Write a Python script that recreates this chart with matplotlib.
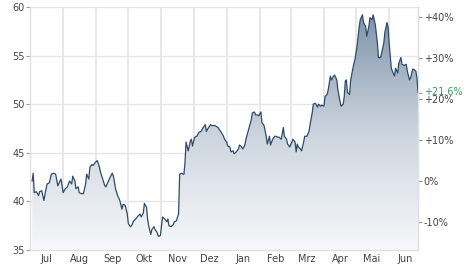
import matplotlib
matplotlib.use("Agg")
import matplotlib.pyplot as plt
import matplotlib.dates as mdates
import numpy as np
import pandas as pd
from matplotlib.colors import LinearSegmentedColormap
from matplotlib.patches import Polygon

dates = [
    "2023-07-03", "2023-07-04", "2023-07-05", "2023-07-07", "2023-07-09", "2023-07-10",
    "2023-07-12", "2023-07-14", "2023-07-16", "2023-07-17", "2023-07-19", "2023-07-21",
    "2023-07-23", "2023-07-25", "2023-07-27", "2023-07-29", "2023-07-30",
    "2023-08-01", "2023-08-03", "2023-08-05", "2023-08-07", "2023-08-09", "2023-08-10",
    "2023-08-12", "2023-08-13", "2023-08-15", "2023-08-16", "2023-08-18", "2023-08-20",
    "2023-08-22", "2023-08-23", "2023-08-25", "2023-08-26", "2023-08-28", "2023-08-29",
    "2023-08-31",
    "2023-09-02", "2023-09-04", "2023-09-05", "2023-09-07", "2023-09-09", "2023-09-10",
    "2023-09-12", "2023-09-14", "2023-09-16", "2023-09-17", "2023-09-18", "2023-09-19",
    "2023-09-21", "2023-09-23", "2023-09-25", "2023-09-26", "2023-09-28", "2023-09-30",
    "2023-10-01", "2023-10-03", "2023-10-04", "2023-10-06", "2023-10-08", "2023-10-10",
    "2023-10-12", "2023-10-13", "2023-10-15", "2023-10-16", "2023-10-18", "2023-10-19",
    "2023-10-20", "2023-10-22", "2023-10-23", "2023-10-25", "2023-10-26", "2023-10-28",
    "2023-10-29", "2023-10-31",
    "2023-11-01", "2023-11-02", "2023-11-04", "2023-11-06", "2023-11-07", "2023-11-08",
    "2023-11-10", "2023-11-12", "2023-11-13", "2023-11-15", "2023-11-16", "2023-11-17",
    "2023-11-18", "2023-11-20", "2023-11-21", "2023-11-22", "2023-11-23", "2023-11-24",
    "2023-11-26", "2023-11-28", "2023-11-29", "2023-11-30",
    "2023-12-02", "2023-12-04", "2023-12-06", "2023-12-08", "2023-12-10", "2023-12-12",
    "2023-12-13", "2023-12-15", "2023-12-17", "2023-12-18", "2023-12-21", "2023-12-24",
    "2023-12-25", "2023-12-27", "2023-12-29", "2023-12-30",
    "2024-01-01", "2024-01-02", "2024-01-04", "2024-01-05", "2024-01-07", "2024-01-08",
    "2024-01-10", "2024-01-12", "2024-01-13", "2024-01-15", "2024-01-16", "2024-01-18",
    "2024-01-19", "2024-01-21", "2024-01-22", "2024-01-24", "2024-01-25", "2024-01-27",
    "2024-01-28", "2024-01-30", "2024-01-31",
    "2024-02-02", "2024-02-03", "2024-02-05", "2024-02-07", "2024-02-08", "2024-02-10",
    "2024-02-11", "2024-02-13", "2024-02-15", "2024-02-16", "2024-02-18", "2024-02-19",
    "2024-02-21", "2024-02-23", "2024-02-24", "2024-02-26", "2024-02-27", "2024-02-29",
    "2024-03-02", "2024-03-03", "2024-03-05", "2024-03-06", "2024-03-07", "2024-03-08",
    "2024-03-10", "2024-03-11", "2024-03-13", "2024-03-14", "2024-03-16", "2024-03-18",
    "2024-03-19", "2024-03-21", "2024-03-22", "2024-03-24", "2024-03-26", "2024-03-27",
    "2024-03-29", "2024-03-30",
    "2024-04-01", "2024-04-02", "2024-04-04", "2024-04-05", "2024-04-07", "2024-04-08",
    "2024-04-10", "2024-04-11", "2024-04-13", "2024-04-14", "2024-04-16", "2024-04-17",
    "2024-04-19", "2024-04-20", "2024-04-21", "2024-04-22", "2024-04-23", "2024-04-25",
    "2024-04-26", "2024-04-28", "2024-04-29", "2024-04-30",
    "2024-05-02", "2024-05-04", "2024-05-05", "2024-05-07", "2024-05-08", "2024-05-10",
    "2024-05-11", "2024-05-13", "2024-05-14", "2024-05-16", "2024-05-17", "2024-05-19",
    "2024-05-21", "2024-05-22", "2024-05-24", "2024-05-25", "2024-05-27", "2024-05-28",
    "2024-05-30", "2024-05-31",
    "2024-06-01", "2024-06-03", "2024-06-04", "2024-06-06", "2024-06-07", "2024-06-09",
    "2024-06-10", "2024-06-12", "2024-06-13", "2024-06-15", "2024-06-17", "2024-06-18",
    "2024-06-20", "2024-06-21", "2024-06-23", "2024-06-24", "2024-06-26", "2024-06-27",
    "2024-06-28",
]

prices = [
    42.1, 42.9, 40.9, 41.0, 40.6, 41.0, 41.1, 40.1, 41.3, 41.8, 41.9, 42.8,
    42.9, 42.8, 41.6, 42.1, 42.3,
    40.9, 41.3, 41.5, 42.1, 41.8, 42.6, 42.1, 41.3, 41.5, 40.9, 40.8, 40.8,
    41.8, 42.8, 42.3, 43.5, 43.8, 43.7, 44.0,
    44.2, 43.5, 43.0, 42.3, 41.6, 41.5, 42.0, 42.5, 42.9, 42.6, 42.0, 41.3,
    40.6, 40.1, 39.2, 39.7, 39.6, 38.7,
    37.7, 37.4, 37.5, 38.0, 38.2, 38.5, 38.7, 38.4, 38.8, 39.8, 39.4, 38.2,
    37.5, 36.6, 37.1, 37.4, 37.1, 36.8, 36.4, 36.5,
    37.5, 38.4, 38.2, 37.9, 38.2, 37.5, 37.4, 37.6, 37.9, 38.0, 38.4, 38.7,
    42.8, 42.9, 42.8, 42.8, 44.0, 46.1, 45.2, 46.2, 46.4, 45.7,
    46.6, 46.7, 47.1, 47.2, 47.6, 47.9, 47.2, 47.6, 47.9, 47.8, 47.8, 47.6,
    47.4, 47.1, 46.7, 46.4,
    46.1, 45.7, 45.6, 45.1, 45.2, 44.9, 45.1, 45.4, 45.8, 45.6, 45.4, 45.8,
    46.4, 47.2, 47.6, 48.4, 49.1, 49.2, 48.9, 48.9, 48.8,
    49.2, 48.1, 47.8, 46.7, 45.9, 46.7, 45.8, 46.4, 46.7, 46.7, 46.6, 46.6,
    46.4, 47.6, 46.7, 46.4, 45.9, 45.6,
    46.1, 46.4, 46.1, 45.1, 45.9, 45.6, 45.4, 45.2, 46.1, 46.7, 46.7, 47.2,
    47.9, 49.1, 50.0, 50.1, 49.7, 50.0, 49.8, 49.9,
    49.8, 50.8, 51.0, 51.5, 52.9, 52.5, 52.9, 53.0, 52.5, 51.5, 50.3, 49.8,
    50.0, 50.8, 52.4, 52.5, 51.2, 51.0, 52.5, 53.6, 54.2, 54.6,
    56.0, 58.0, 58.7, 59.2, 58.4, 58.0, 57.0, 58.0, 58.9, 58.7, 59.2, 58.2,
    56.3, 54.8, 54.8, 55.3, 56.3, 57.4, 58.4, 57.9,
    56.3, 53.7, 53.4, 52.9, 53.7, 53.2, 54.2, 54.8, 54.1, 54.0, 54.1, 53.4,
    52.5, 52.7, 53.6, 53.6, 53.4, 52.7, 51.2,
]

month_labels = ["Jul", "Aug", "Sep", "Okt", "Nov", "Dez", "Jan", "Feb", "Mrz", "Apr", "Mai", "Jun"]
left_ticks = [35, 40, 45, 50, 55, 60]
pct_ticks = [-10, 0, 10, 20, 30, 40]
base_price = 42.1
last_pct = 21.6

x_start, x_end = "2023-07-01", "2024-06-28"
y_min, y_max = 35, 60

line_color = "#2f4b69"
grid_color = "#e6e6e6"
text_color = "#444444"

fig = plt.figure(figsize=(4.74, 2.69), dpi=100)
ax = fig.add_axes([0.0633, 0.0706, 0.8186, 0.9034])

xd = mdates.date2num(pd.to_datetime(dates))
yp = np.array(prices)
x0 = mdates.date2num(pd.Timestamp(x_start))
x1 = mdates.date2num(pd.Timestamp(x_end))

# gradient fill under the line
cmap = LinearSegmentedColormap.from_list(
    "g", [(0.0, "#f6f8fa"), (0.25, "#e2e7ed"), (0.5, "#c9d2dc"), (1.0, "#7b90a7")])
grad = np.linspace(0, 1, 256).reshape(-1, 1)
im = ax.imshow(grad, extent=[x0, x1, y_min, y_max], origin="lower", aspect="auto",
               cmap=cmap, zorder=1)
poly_pts = np.column_stack([np.concatenate([[xd[0]], xd, [xd[-1]]]),
                            np.concatenate([[y_min], yp, [y_min]])])
poly = Polygon(poly_pts, closed=True, transform=ax.transData, facecolor="none", edgecolor="none")
ax.add_patch(poly)
im.set_clip_path(poly)

ax.plot(xd, yp, color=line_color, lw=0.9, zorder=3)

ax.set_xlim(x0, x1)
ax.set_ylim(y_min, y_max)

# month grid
month_starts = pd.date_range("2023-08-01", "2024-06-01", freq="MS")
ax.set_xticks(mdates.date2num(month_starts))
ax.set_xticklabels([])
ax.tick_params(axis="x", which="major", length=0)
mids = pd.date_range("2023-07-01", "2024-06-01", freq="MS") + pd.Timedelta(days=15)
ax.set_xticks(mdates.date2num(mids), minor=True)
ax.set_xticklabels(month_labels, minor=True)
ax.tick_params(axis="x", which="minor", length=0, labelsize=7, colors=text_color, pad=3)
ax.grid(True, axis="x", which="major", color=grid_color, lw=1.3, zorder=0)

ax.set_yticks(left_ticks)
ax.set_yticklabels([str(v) for v in left_ticks])
ax.tick_params(axis="y", length=3, width=0.8, color="#999999", labelsize=7,
                labelcolor=text_color, pad=1)
ax.grid(True, axis="y", color=grid_color, lw=1.0, zorder=0)
ax.set_axisbelow(True)

ax.spines["top"].set_visible(False)
for side in ["left", "right", "bottom"]:
    ax.spines[side].set_color("#e0e0e0")
    ax.spines[side].set_linewidth(1.0)

# right axis with percentage changes
ax2 = ax.twinx()
ax2.set_ylim(y_min, y_max)
ax2.set_yticks([base_price * (1 + p / 100) for p in pct_ticks])
ax2.set_yticklabels([("+" if p > 0 else "") + f"{p}%" for p in pct_ticks])
ax2.tick_params(axis="y", length=3, width=0.8, color="#999999", labelsize=7,
                labelcolor=text_color, pad=1)
for side in ["top", "left", "bottom"]:
    ax2.spines[side].set_visible(False)
ax2.spines["right"].set_color("#e0e0e0")

last_price = base_price * (1 + last_pct / 100)
ax2.annotate(f"+{last_pct}%", xy=(1.0, last_price), xycoords=("axes fraction", "data"),
             xytext=(4, 0.5), textcoords="offset points", va="center", ha="left",
             fontsize=7, color="#3f9a66")
ax2.plot([1.0, 1.008], [last_price, last_price], transform=ax2.get_yaxis_transform(),
         color="#999999", lw=0.8, clip_on=False)

fig.savefig("out.png", dpi=100)
